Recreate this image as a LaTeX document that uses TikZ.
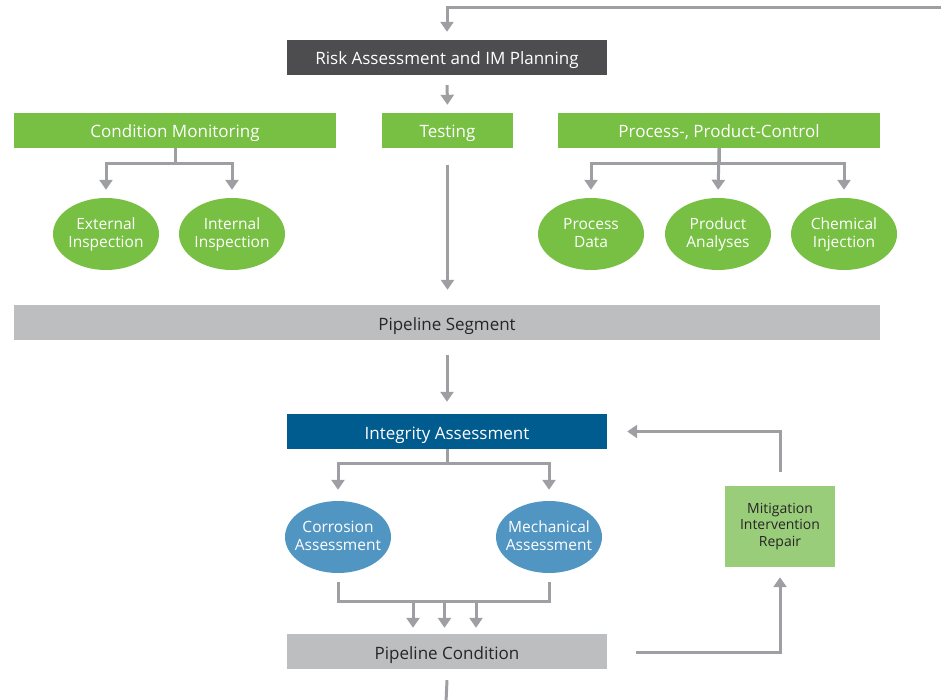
\documentclass[tikz,border=0pt]{standalone}
\usepackage{fontspec}
\setmainfont{Open Sans}
\usepackage{tikz}
\usetikzlibrary{calc,arrows.meta,shapes.geometric}

\definecolor{imgreen}{HTML}{77C043}
\definecolor{imlightgreen}{HTML}{9ACD7A}
\definecolor{imdark}{HTML}{4D4D4F}
\definecolor{imblue}{HTML}{005B8F}
\definecolor{imellblue}{HTML}{5195C3}
\definecolor{imgrey}{HTML}{BDBEC0}
\definecolor{imline}{HTML}{9D9FA2}

\tikzset{
  box/.style={rectangle,inner sep=0pt,minimum height=35pt,text=white,
    text height=15pt,text depth=0pt,font=\fontsize{17}{20}\selectfont},
  greenbox/.style={box,fill=imgreen},
  greybox/.style={box,fill=imgrey,text=black!85},
  ell/.style={ellipse,inner xsep=-14pt,inner ysep=0pt,minimum width=106pt,minimum height=72pt,
    align=center,text=white,font=\fontsize{15.5}{18}\selectfont,
    text height=27pt,text depth=0pt},
  line/.style={draw=imline,line width=3pt},
  arr/.style={line,-{Triangle[width=13pt,length=10pt]}}
}

\begin{document}
\begin{tikzpicture}
    [x=1pt,y=-1pt]
    \useasboundingbox (0,0) rectangle (941,700);

    % boxes
    \node[box,fill=imdark,minimum width=320pt] (risk) at (447,57.5) {Risk Assessment and IM Planning};
    \node[greenbox,minimum width=322pt] (cm) at (175,130.5) {Condition Monitoring};
    \node[greenbox,minimum width=131pt] (test) at (447.5,130.5) {Testing};
    \node[greenbox,minimum width=322pt] (pc) at (719,130.5) {Process-, Product-Control};
    \node[greybox,minimum width=866pt] (seg) at (447,322.5) {Pipeline Segment};
    \node[box,fill=imblue,minimum width=320pt] (ia) at (447,431.5) {Integrity Assessment};
    \node[greybox,minimum width=320pt] (cond) at (447,651.5) {Pipeline Condition};
    \node[rectangle,fill=imlightgreen,minimum width=110pt,minimum height=81pt,align=center,
      text=black!85,font=\fontsize{14}{16.5}\selectfont] (mit) at (780,526.5) {Mitigation\\Intervention\\Repair};

    % ellipses
    \node[ell,fill=imgreen] (ext) at (106,234) {External\\Inspection};
    \node[ell,fill=imgreen] (int) at (232,234) {Internal\\Inspection};
    \node[ell,fill=imgreen] (pd) at (591,234) {Process\\Data};
    \node[ell,fill=imgreen] (pa) at (718,234) {Product\\Analyses};
    \node[ell,fill=imgreen] (ci) at (844,234) {Chemical\\Injection};
    \node[ell,fill=imellblue] (cor) at (338,537) {Corrosion\\Assessment};
    \node[ell,fill=imellblue] (mech) at (549,537) {Mechanical\\Assessment};

    \coordinate (top) at (941,8);
    \coordinate (out) at (446,702);
    \coordinate (m1) at (413,601);
    \coordinate (m2) at (444.5,601);
    \coordinate (m3) at (476,601);

    % connectors
    \draw[arr,shorten >=8pt] (top) -| (risk.north);
    \draw[arr,shorten <=10pt,shorten >=8pt] (risk.south) -- (test.north);
    \draw[arr,shorten >=8pt] (cm.south) -- ++(0,15) -| (ext.north);
    \draw[arr,shorten >=8pt] (cm.south) -- ++(0,15) -| (int.north);
    \draw[arr,shorten >=8pt] (pc.south) -- ++(0,15) -| (pd.north);
    \draw[arr,shorten >=8pt] (pc.south) -- (pa.north);
    \draw[arr,shorten >=8pt] (pc.south) -- ++(0,15) -| (ci.north);
    \draw[arr,shorten <=17pt,shorten >=15pt] (test.south) -- (test.south |- seg.north);
    \draw[arr,shorten <=15pt,shorten >=12pt] (seg.south -| ia.north) -- (ia.north);
    \draw[arr,shorten >=11pt] (ia.south) -- ++(0,14) -| (cor.north);
    \draw[arr,shorten >=11pt] (ia.south) -- ++(0,14) -| (mech.north);
    \draw[line] ($(cor.south)+(0,9)$) |- ($(mech.south)+(0,28)$) -- ($(mech.south)+(0,9)$);
    \foreach \m in {m1,m2,m3}
      \draw[arr,shorten >=6pt] (\m) -- (\m |- cond.north);
    \draw[line] ($(cond.south)+(0,11)$) -- (out);
    \draw[arr] ($(cond.east)+(29,1)$) -| ($(mit.south)+(0,10)$);
    \draw[arr] ($(mit.north)+(0,-14)$) |- ($(ia.east)+(20,0)$);
\end{tikzpicture}
\end{document}
